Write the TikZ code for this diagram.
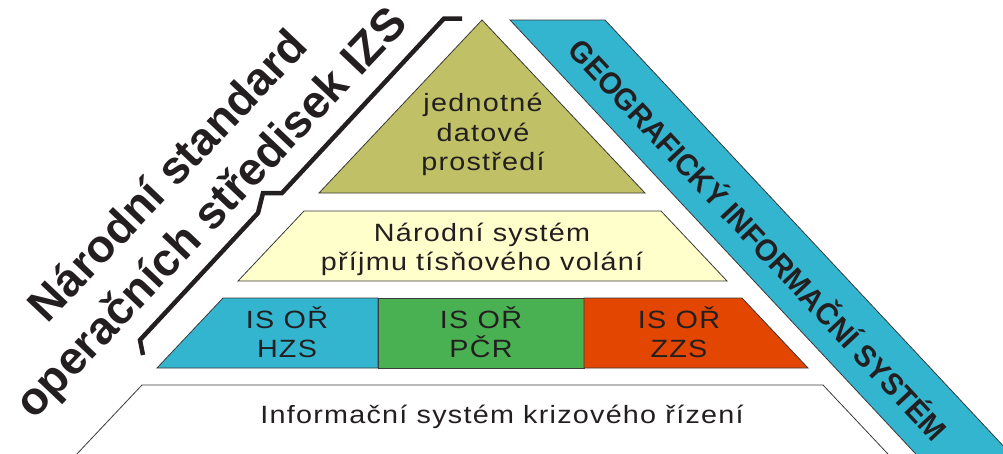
\documentclass[tikz,border=0pt]{standalone}
\usepackage{fontspec}
\setmainfont{Liberation Sans}
\newfontfamily\boxfont{Liberation Sans}[FakeStretch=1.15,LetterSpace=5]
\newfontfamily\titlefont{Liberation Sans}
\newfontfamily\gisfont{Liberation Sans}[FakeStretch=0.95]
\definecolor{olive}{HTML}{C0C066}
\definecolor{paleyellow}{HTML}{FFFFCC}
\definecolor{isblue}{HTML}{33B5CF}
\definecolor{isgreen}{HTML}{4AB153}
\definecolor{isred}{HTML}{E24600}
\definecolor{txt}{HTML}{231F20}
\definecolor{edge}{HTML}{3A3A3A}
\begin{document}
\begin{tikzpicture}[x=1pt,y=-1pt,
  layer/.style={draw=edge, line width=0.8pt, line join=miter},
  boxtext/.style={font=\boxfont\fontsize{25}{29.5}\selectfont, text=txt, inner sep=0pt, anchor=base},
  titletext/.style={font=\titlefont\bfseries\fontsize{46}{57}\selectfont, text=txt, inner sep=0pt, anchor=base, rotate=46.5},
  gistext/.style={font=\gisfont\bfseries\fontsize{30.5}{36}\selectfont, text=txt, inner sep=0pt, anchor=base, rotate=-46.9},
  bracketline/.style={draw=txt, line width=4.5pt, line join=miter}]
\useasboundingbox (0,0) rectangle (1003,453);
\clip (0,0) rectangle (1003,453);
% GIS band
\filldraw[layer, fill=isblue] (510,20) -- (605,20) -- (1025.75,470) -- (930.75,470) -- cycle;
% top triangle
\filldraw[layer, fill=olive] (482,20) -- (645,193) -- (319,193) -- cycle;
% national system
\filldraw[layer, fill=paleyellow] (304,211) -- (661,211) -- (727,281) -- (238,281) -- cycle;
% IS OR row
\filldraw[layer, fill=isblue] (223,298) -- (378,298) -- (378,368) -- (157,368) -- cycle;
\filldraw[layer, fill=isgreen] (378,298) -- (584,298) -- (584,368) -- (378,368) -- cycle;
\filldraw[layer, fill=isred] (584,298) -- (742,298) -- (808,368) -- (584,368) -- cycle;
% crisis management base
\filldraw[layer, fill=white] (61.8,470) -- (142,385) -- (823,385) -- (903,470);
% bracket
\draw[bracketline] (462,18.5) -- (444,18.5) -- (282,193) -- (263,193) -- (258,213) -- (140,340) -- (143,355);
% texts
\node[boxtext] (tri1) at (483,111.5) {jednotné};
\node[boxtext] (tri2) at (483,141) {datové};
\node[boxtext] (tri3) at (483,170.5) {prostředí};
\node[boxtext] (nat1) at (482,241) {Národní systém};
\node[boxtext] (nat2) at (482,270) {příjmu tísňového volání};
\node[boxtext] (hzs1) at (287,328) {IS OŘ};
\node[boxtext] (hzs2) at (287,357) {HZS};
\node[boxtext] (pcr1) at (481,328) {IS OŘ};
\node[boxtext] (pcr2) at (481,357) {PČR};
\node[boxtext] (zzs1) at (679,328) {IS OŘ};
\node[boxtext] (zzs2) at (679,357) {ZZS};
\node[boxtext] (krize) at (502,423) {Informační systém krizového řízení};
\node[titletext] (title1) at (179,186) {Národní standard};
\node[titletext] (title2) at (222,223) {operačních středisek IZS};
\node[gistext] (gis) at (750,247.4) {GEOGRAFICKÝ INFORMAČNÍ SYSTÉM};
\end{tikzpicture}
\end{document}
